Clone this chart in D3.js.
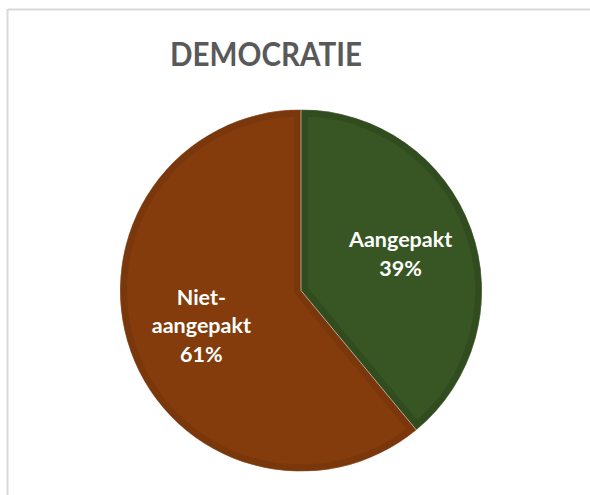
<!DOCTYPE html>
<html>
<head>
<meta charset="utf-8">
<script src="https://cdn.jsdelivr.net/npm/d3@7"></script>
<style>
  body { margin: 0; background: #fff; }
  svg { display: block; }
</style>
</head>
<body>
<div id="chart"></div>
<script>
// data
const categories = ["Aangepakt", "Niet-aangepakt"];
const values = [39, 61];
const labelLines = [["Aangepakt", "39%"], ["Niet-", "aangepakt", "61%"]];
const fills = ["#375623", "#843c0c"];
const edges = ["#314d1f", "#7a370b"];

const W = 590, H = 495;
const cx = 301, cy = 290.5, r = 181;

const svg = d3.select("#chart").append("svg")
    .attr("width", W)
    .attr("height", H);

// chart frame (only left and top edges are visible)
svg.append("line")
    .attr("x1", 8).attr("y1", 9.5).attr("x2", W).attr("y2", 9.5)
    .attr("stroke", "#d9d9d9").attr("stroke-width", 2);
svg.append("line")
    .attr("x1", 7.5).attr("y1", 9).attr("x2", 7.5).attr("y2", H)
    .attr("stroke", "#d9d9d9").attr("stroke-width", 2);

svg.append("text")
    .attr("x", 266)
    .attr("y", 66)
    .attr("text-anchor", "middle")
    .attr("textLength", 192)
    .attr("lengthAdjust", "spacingAndGlyphs")
    .style("font-family", "Lato, 'Open Sans', sans-serif")
    .style("font-weight", "bold")
    .style("font-size", "32px")
    .style("fill", "#595959")
    .text("DEMOCRATIE");

const pie = d3.pie().sort(null).value(d => d);
const arcs = pie(values);
const arc = d3.arc().innerRadius(0).outerRadius(r);
const labelArc = d3.arc().innerRadius(r * 0.585).outerRadius(r * 0.585);

const g = svg.append("g").attr("transform", `translate(${cx},${cy})`);

const defs = svg.append("defs");
arcs.forEach((d, i) => {
    defs.append("clipPath").attr("id", "clip" + i)
        .append("path").attr("d", arc(d));
});

// slices with a darker inner bevel band
g.selectAll("path.slice")
    .data(arcs)
    .join("path")
    .attr("class", "slice")
    .attr("d", arc)
    .attr("fill", (d, i) => fills[i])
    .attr("stroke", (d, i) => edges[i])
    .attr("stroke-width", 14)
    .attr("clip-path", (d, i) => `url(#clip${i})`);

// thin light separator
g.selectAll("path.sep")
    .data(arcs)
    .join("path")
    .attr("class", "sep")
    .attr("d", arc)
    .attr("fill", "none")
    .attr("stroke", "#ffffff")
    .attr("stroke-opacity", 0.35)
    .attr("stroke-width", 0.8);

// labels
const lineH = 28.5;
g.selectAll("text.lbl")
    .data(arcs)
    .join("text")
    .attr("class", "lbl")
    .attr("text-anchor", "middle")
    .style("font-family", "Lato, 'Open Sans', sans-serif")
    .style("font-weight", "bold")
    .style("font-size", "21.5px")
    .style("fill", "#ffffff")
    .each(function(d, i) {
        const [x, y] = labelArc.centroid(d);
        const lines = labelLines[i];
        const t = d3.select(this);
        lines.forEach((s, k) => {
            t.append("tspan")
                .attr("x", x)
                .attr("y", y + 7 + (k - (lines.length - 1) / 2) * lineH)
                .text(s);
        });
    });
</script>
</body>
</html>
